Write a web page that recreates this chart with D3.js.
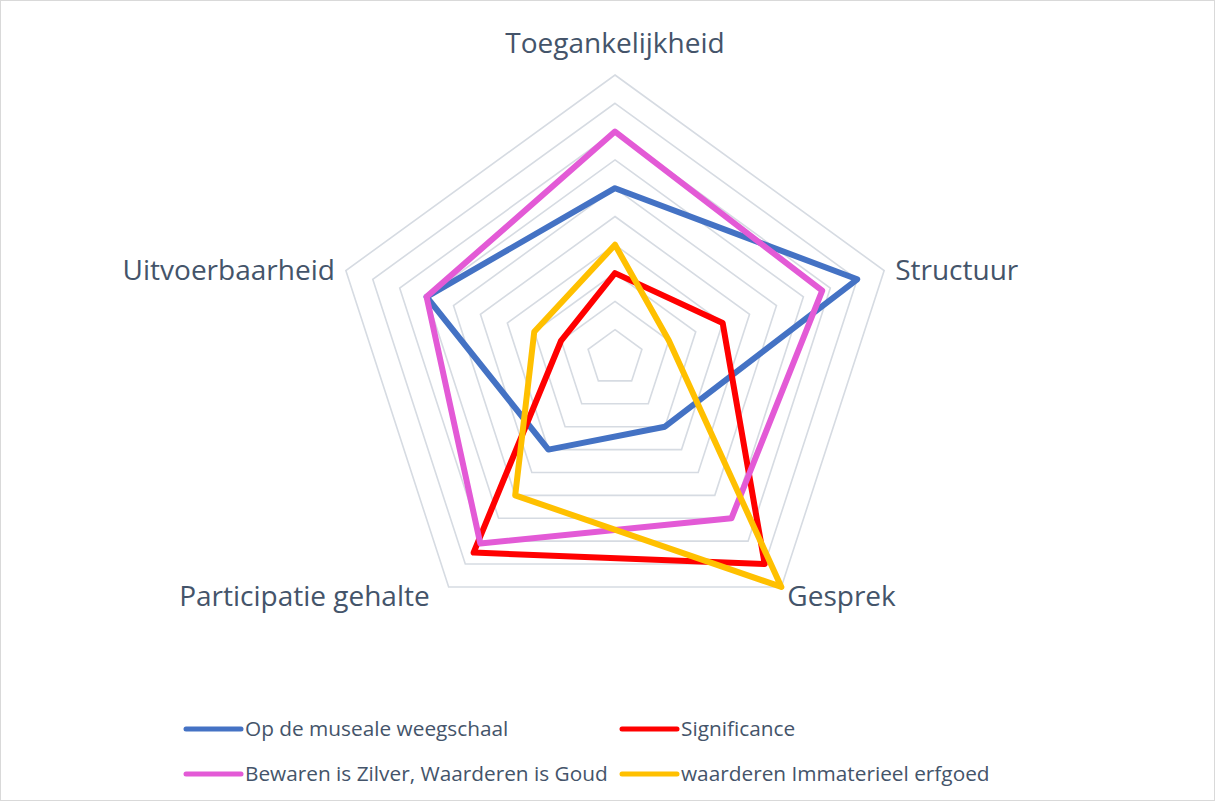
<!DOCTYPE html>
<html>
<head>
<meta charset="utf-8">
<script src="https://cdn.jsdelivr.net/npm/d3@7"></script>
<style>
  html, body { margin: 0; padding: 0; background: #fff; }
  svg text { font-family: "Open Sans", sans-serif; fill: #44546A; }
</style>
</head>
<body>
<div id="chart"></div>
<script>
const axes = ["Toegankelijkheid", "Structuur", "Gesprek", "Participatie gehalte", "Uitvoerbaarheid"]
const seriesNames = ["Op de museale weegschaal", "Significance", "Bewaren is Zilver, Waarderen is Goud", "waarderen Immaterieel erfgoed"]
const musealeWeegschaal = [6, 9, 3, 4, 7]
const significance = [3, 4, 9, 8.5, 2]
const bewarenZilver = [8, 7.7, 7, 8.1, 7]
const immaterieelErfgoed = [4, 2, 10, 6, 3]
const gridLevels = [1, 2, 3, 4, 5, 6, 7, 8, 9, 10]

const colors = ["#4472C4", "#FF0000", "#E35AD6", "#FFC000"]
const allSeries = [musealeWeegschaal, significance, bewarenZilver, immaterieelErfgoed]

const width = 1215, height = 801
const cx = 615, cy = 358, R = 283

const svg = d3.create("svg")
    .attr("width", width)
    .attr("height", height)
    .attr("viewBox", [0, 0, width, height])

svg.append("rect")
    .attr("x", 0.5).attr("y", 0.5)
    .attr("width", width - 1).attr("height", height - 1)
    .attr("fill", "#fff")
    .attr("stroke", "#D9D9D9")

const r = d3.scaleLinear([0, 10], [0, R])
const angle = d3.scalePoint(axes.concat("end"), [0, 2 * Math.PI])

const g = svg.append("g").attr("transform", `translate(${cx},${cy})`)

const radial = d3.lineRadial()
    .angle((d, i) => angle(axes[i]))
    .radius(d => r(d))
    .curve(d3.curveLinearClosed)

// grid rings
g.append("g")
  .selectAll("path")
  .data(gridLevels)
  .join("path")
    .attr("d", lvl => radial(axes.map(() => lvl)))
    .attr("fill", "none")
    .attr("stroke", "#D6DBE2")
    .attr("stroke-width", 1.6)

// series
g.append("g")
  .selectAll("path")
  .data(allSeries)
  .join("path")
    .attr("d", d => radial(d))
    .attr("fill", "none")
    .attr("stroke", (d, i) => colors[i])
    .attr("stroke-width", 6)
    .attr("stroke-linejoin", "round")

// axis labels
const labelPos = [
  {dx: 0, dy: -22, anchor: "middle"},
  {dx: 11, dy: 9, anchor: "start"},
  {dx: 6, dy: 19, anchor: "start"},
  {dx: -19, dy: 19, anchor: "end"},
  {dx: -11, dy: 9, anchor: "end"}
]
g.append("g")
  .selectAll("text")
  .data(axes)
  .join("text")
    .attr("x", (d, i) => Math.sin(angle(d)) * R + labelPos[i].dx)
    .attr("y", (d, i) => -Math.cos(angle(d)) * R + labelPos[i].dy)
    .attr("text-anchor", (d, i) => labelPos[i].anchor)
    .attr("font-size", 28)
    .text(d => d)

// legend
const legendX = [186, 622], legendY = [729, 774]
const legend = svg.append("g")
  .selectAll("g")
  .data(seriesNames)
  .join("g")
    .attr("transform", (d, i) => `translate(${legendX[i % 2]},${legendY[Math.floor(i / 2)]})`)
legend.append("line")
    .attr("x1", 0).attr("x2", 55)
    .attr("stroke", (d, i) => colors[i])
    .attr("stroke-width", 5)
    .attr("stroke-linecap", "round")
legend.append("text")
    .attr("x", 59)
    .attr("dy", "0.35em")
    .attr("font-size", 20.8)
    .text(d => d)

d3.select("#chart").node().appendChild(svg.node())
</script>
</body>
</html>
